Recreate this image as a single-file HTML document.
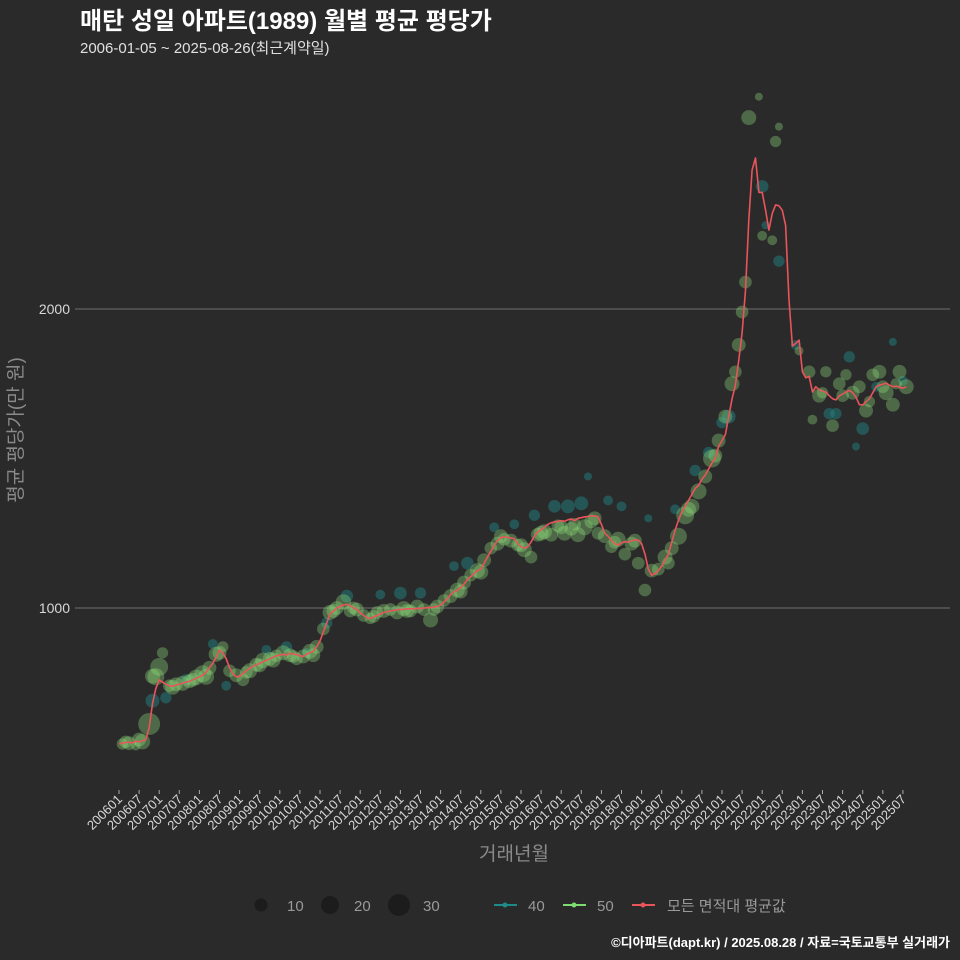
<!DOCTYPE html>
<html><head><meta charset="utf-8">
<style>
html,body{margin:0;padding:0;background:#2b2a2b;}
svg{display:block;font-family:"Liberation Sans","Noto Sans CJK KR",sans-serif;}
</style></head>
<body>
<svg id="chart" width="960" height="960" viewBox="0 0 960 960">
<rect x="0" y="0" width="960" height="960" fill="#2b2a2b"/>
<text x="80" y="29" fill="#ffffff" font-size="24" font-weight="bold">매탄 성일 아파트(1989) 월별 평균 평당가</text>
<text x="80" y="53" fill="#e0e0e0" font-size="15">2006-01-05 ~ 2025-08-26(최근계약일)</text>
<g id="grid"></g>
<g id="yticks"></g>
<text transform="translate(22,430) rotate(-90)" text-anchor="middle" fill="#8a8a8a" font-size="19">평균 평당가(만 원)</text>
<g id="pts"></g>
<g id="line"></g>
<g id="xticks"></g>
<text x="514" y="860" text-anchor="middle" fill="#8a8a8a" font-size="19">거래년월</text>
<g font-size="15" fill="#9a9a9a">
<g><circle cx="261" cy="905" r="6.5" fill="#1d1c1d"/><text x="287" y="911">10</text></g>
<g><circle cx="330" cy="905" r="9" fill="#1d1c1d"/><text x="354" y="911">20</text></g>
<g><circle cx="399" cy="905" r="11" fill="#1d1c1d"/><text x="423" y="911">30</text></g>
<g><line x1="494" y1="905" x2="517" y2="905" stroke="#1f8a8a" stroke-width="2"/><circle cx="505" cy="905" r="2.5" fill="#1f8a8a"/><text x="528" y="911">40</text></g>
<g><line x1="563" y1="905" x2="586" y2="905" stroke="#7ddc6f" stroke-width="2"/><circle cx="574" cy="905" r="2.5" fill="#7ddc6f"/><text x="597" y="911">50</text></g>
<g><line x1="632" y1="905" x2="655" y2="905" stroke="#e8555a" stroke-width="2"/><circle cx="643" cy="905" r="2.5" fill="#e8555a"/><text x="667" y="911">모든 면적대 평균값</text></g>
</g>
<text x="950" y="947" text-anchor="end" fill="#ffffff" font-size="13" font-weight="bold">©디아파트(dapt.kr) / 2025.08.28 / 자료=국토교통부 실거래가</text>
</svg>
<script>
const avgValues = [
545,548,550,552,548,555,552,556,560,600,680,730,
760,752,745,740,738,742,745,748,752,755,760,765,
770,775,785,800,815,835,860,850,830,800,780,770,
772,780,790,798,805,810,815,820,825,830,835,840,
842,845,843,848,846,844,840,838,845,850,855,870,
890,920,950,980,990,1000,1005,1010,1012,1008,1000,995,
985,975,968,965,970,975,980,985,987,990,992,994,
995,996,997,998,997,998,999,1000,1001,1002,1003,1005,
1010,1020,1030,1045,1055,1060,1068,1080,1095,1105,1115,1125,
1130,1150,1170,1190,1210,1225,1235,1238,1236,1234,1232,1215,
1205,1200,1205,1220,1240,1255,1262,1270,1280,1285,1288,1290,
1292,1290,1295,1298,1292,1300,1302,1305,1306,1308,1308,1305,
1280,1250,1240,1225,1215,1210,1218,1222,1220,1225,1228,1227,
1215,1180,1130,1110,1115,1125,1140,1160,1180,1220,1260,1294,
1320,1340,1360,1380,1400,1410,1430,1445,1465,1485,1500,1540,
1560,1580,1640,1700,1745,1830,1920,2063,2297,2465,2505,2390,
2390,2330,2264,2320,2348,2345,2330,2280,2030,1876,1885,1896,
1790,1770,1775,1722,1740,1730,1725,1722,1710,1700,1696,1710,
1715,1722,1728,1720,1705,1680,1679,1690,1700,1720,1740,1745,
1748,1752,1745,1740,1742,1738,1735,1740];
const greenMonth = [1,3,5,7,9,10,11,12,13,15,17,19,21,23,25,27,29,31,33,35,37,39,41,43,45,47,49,51,53,55,57,59,61,63,65,67,69,71,73,75,77,79,81,83,85,87,89,91,93,95,97,99,101,103,105,107,109,111,113,115,117,119,121,123,125,127,129,131,133,135,137,139,141,143,145,147,149,151,153,155,157,159,161,163,165,167,169,171,173,175,177,179,181,183,184,185,186,187,188,191,192,195,196,197,203,206,207,209,211,213,215,217,219,221,223,225,227,229,231,233,235,
2,6,16,22,26,30,38,42,46,52,58,64,70,76,86,94,102,108,114,120,126,132,136,142,148,154,164,170,178,210,216,224,228,232];
const greenPrice = [545,548,540,553,612,772,770,803,850,740,745,748,755,768,780,800,845,870,790,775,760,790,810,825,830,840,850,842,830,838,855,870,930,985,1000,1020,990,995,975,965,985,990,995,985,998,990,1005,995,960,1005,1025,1040,1060,1085,1110,1125,1160,1200,1215,1230,1225,1210,1195,1170,1245,1255,1245,1275,1250,1265,1245,1270,1290,1250,1240,1205,1230,1180,1215,1150,1060,1125,1130,1170,1200,1240,1310,1340,1390,1440,1500,1560,1640,1750,1790,1880,1990,2090,2640,2710,2245,2230,2560,2610,1860,1790,1630,1710,1790,1610,1750,1780,1720,1740,1660,1780,1790,1720,1680,1790,1740,
552,560,735,760,770,850,785,808,826,838,842,990,1000,972,990,995,1055,1120,1240,1210,1250,1270,1280,1300,1220,1225,1150,1330,1510,1720,1710,1690,1740,1750];
const greenCount = [8,12,6,15,30,14,18,20,8,10,12,14,12,15,18,12,14,8,10,12,10,14,12,15,12,10,14,12,10,12,14,12,10,14,12,15,10,12,10,8,10,12,10,12,14,10,12,10,14,12,10,12,14,12,10,14,12,10,12,10,12,10,14,10,12,14,12,10,14,12,14,16,12,10,12,10,14,10,12,10,10,12,10,14,12,18,20,14,16,12,20,12,12,14,10,12,10,10,14,4,6,6,8,4,5,10,6,12,8,10,10,8,12,10,12,10,12,14,12,12,14,
10,12,14,12,16,12,10,12,14,10,12,12,10,10,12,10,12,14,12,12,14,12,10,12,10,12,10,14,12,8,10,8,10,8];
const tealMonth = [10,14,20,28,32,44,50,56,62,68,78,84,90,100,104,112,118,124,130,134,138,140,146,150,158,166,172,176,180,182,192,193,197,202,212,214,218,220,222,226,231,234];
const tealPrice = [690,700,760,880,740,860,870,850,950,1040,1045,1050,1050,1140,1150,1270,1280,1310,1340,1340,1350,1440,1360,1340,1300,1330,1460,1520,1620,1640,2410,2280,2160,1880,1650,1650,1840,1540,1600,1740,1890,1760];
const tealCount = [12,8,8,6,6,6,8,6,8,10,6,10,8,6,10,6,6,8,10,12,12,4,6,6,4,6,8,8,8,12,10,4,8,6,8,8,8,4,10,6,4,6];
const yTicks = [1000,2000];
const xTickLabels = ['200601','200607','200701','200707','200801','200807','200901','200907','201001','201007','201101','201107','201201','201207','201301','201307','201401','201407','201501','201507','201601','201607','201701','201707','201801','201807','201901','201907','202001','202007','202101','202107','202201','202207','202301','202307','202401','202407','202501','202507'];

const NS='http://www.w3.org/2000/svg';
function xScale(i){return 119 + i*3.35;}
function yScale(p){return 608 - (p-1000)*0.299;}
function rScale(n){return 2*Math.sqrt(n);}
function mk(tag,attrs,parent){const e=document.createElementNS(NS,tag);for(const k in attrs)e.setAttribute(k,attrs[k]);parent.appendChild(e);return e;}

const grid=document.getElementById('grid'), yt=document.getElementById('yticks');
yTicks.forEach(v=>{
  const l=mk('line',{x1:75,x2:950,y1:yScale(v),y2:yScale(v),stroke:'#6e6e6e','stroke-width':1},grid);
  
  
  const t=mk('text',{x:70,y:yScale(v)+5,'text-anchor':'end',fill:'#d8d8d8','font-size':14},yt);
  t.textContent=v;
  
  
});

const xt=document.getElementById('xticks');
xTickLabels.forEach((lab,k)=>{
  const x=xScale(k*6);
  const tk=mk('line',{x1:x,x2:x,y1:790,y2:794,stroke:'#aaaaaa','stroke-width':1},xt);
  
  
  const t=mk('text',{x:x+4,y:800,'text-anchor':'end',fill:'#d8d8d8','font-size':13,transform:'rotate(-45 '+(x+4)+' 800)'},xt);
  t.textContent=lab;
  
  
});

const pts=document.getElementById('pts');
tealMonth.forEach((m,k)=>{
  const c=mk('circle',{cx:xScale(m),cy:yScale(tealPrice[k]),r:rScale(tealCount[k]),fill:'#1f8a8a','fill-opacity':0.45},pts);
  
  
});
greenMonth.forEach((m,k)=>{
  const c=mk('circle',{cx:xScale(m),cy:yScale(greenPrice[k]),r:rScale(greenCount[k]),fill:'#8fe07a','fill-opacity':0.35},pts);
  
  
});

const d=avgValues.map((v,i)=>(i?'L':'M')+xScale(i).toFixed(1)+','+yScale(v).toFixed(1)).join('');
const path=mk('path',{d:d,fill:'none',stroke:'#e8555a','stroke-width':1.6,'stroke-linejoin':'round'},document.getElementById('line'));


</script>
</body></html>
